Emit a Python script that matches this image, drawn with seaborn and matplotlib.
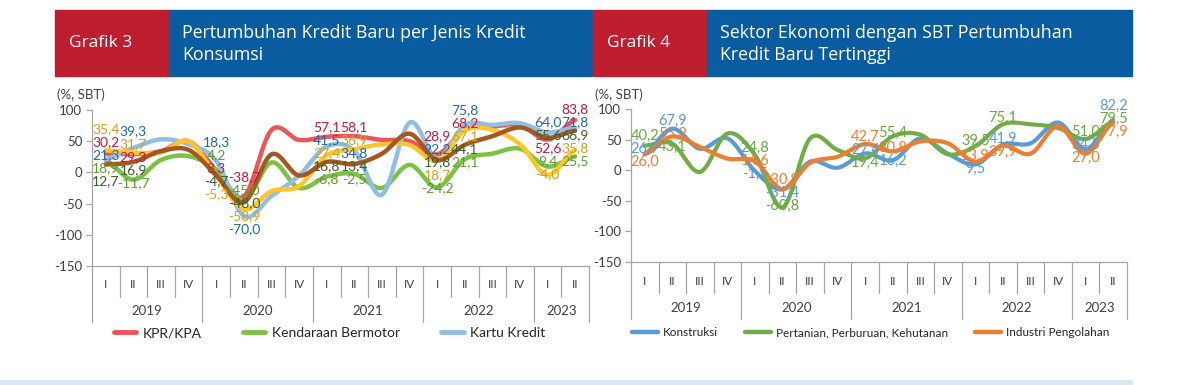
import numpy as np
import pandas as pd
import matplotlib
matplotlib.use("Agg")
import matplotlib.pyplot as plt
import matplotlib.transforms as mtransforms
from matplotlib.patches import Rectangle
from matplotlib.lines import Line2D
import seaborn as sns

# ---- data -------------------------------------------------------------
quarters = ["I", "II", "III", "IV"] * 4 + ["I", "II"]
years = ["2019", "2020", "2021", "2022", "2023"]
year_len = [4, 4, 4, 4, 2]
label_idx = [0, 1, 4, 5, 8, 9, 12, 13, 16, 17]   # quarters carrying a data label

# Grafik 3 - kredit konsumsi (SBT, %)
kpr = [30.2, 29.3, 34, 50, 3.3, -38.7, 68, 52, 57.1, 58.1, 52, 50, 28.9, 68.2, 73, 76, 52.6, 83.8]
kendaraan = [18.9, -11.7, 20, 26, 4.2, -45, 16, -25, -6.8, -2.5, -25, 12, -24.2, 21.1, 30, 38, 9.4, 25.5]
kartu = [21.3, 39.3, 53, 45, 18.3, -70.0, -38, -5, 41.5, 34.8, -36, 80, 22.2, 75.8, 76, 79, 64.0, 71.8]
multiguna = [35.4, 31.7, 32, 50, -5.3, -58.9, -30, -22, 27.4, 36.9, 45, 44, 18.7, 67.1, 68, 45, -4.0, 35.8]
lainnya = [12.7, 16.9, 34, 36, -4.7, -48.0, 29, -5, 16.8, 13.4, 30, 62, 19.8, 44.1, 58, 72, 55.6, 66.9]

# Grafik 4 - sektor ekonomi (SBT, %)
konstruksi = [26.9, 67.9, 35, 52, -1.5, -31.4, 14, 4, 27.4, 16.2, 52, 27, 9.5, 41.9, 44, 78, 34.5, 82.2]
pertanian = [40.2, 43.1, -3, 60, 24.8, -60.8, 52, 33, 19.4, 55.4, 58, 26, 39.5, 75.1, 75, 69, 51.0, 79.5]
industri = [26.0, 55.2, 38, 19, 14.6, -30.9, 12, 22, 42.7, 30.8, 47, 44, 13.9, 39.9, 27, 72, 27.0, 77.9]

W, H = 1195, 385


def px(x, y):
    return x / W, 1 - y / H


def smooth(vals, n=14):
    # excel-style smoothed line (bezier through the points)
    p = np.asarray(vals, float)
    pp = np.concatenate([[p[0]], p, [p[-1]]])
    xs, ys = [], []
    t = np.linspace(0, 1, n, endpoint=False)
    for i in range(len(p) - 1):
        p0, p1, p2, p3 = pp[i:i + 4]
        c1 = p1 + (p2 - p0) / 6
        c2 = p2 - (p3 - p1) / 6
        ys.append((1 - t) ** 3 * p1 + 3 * (1 - t) ** 2 * t * c1 + 3 * (1 - t) * t ** 2 * c2 + t ** 3 * p2)
        xs.append(i + t)
    xs.append([len(p) - 1])
    ys.append([p[-1]])
    return np.concatenate(xs), np.concatenate(ys)


def draw_panel(ax, series, lw, sep_q, sep_y, lab_q, lab_y, lab_size):
    rows = []
    for name, vals, color, _ in series:
        xs, ys = smooth(vals)
        rows.append(pd.DataFrame({"x": xs, "y": ys, "s": name}))
    df = pd.concat(rows, ignore_index=True)
    pal = {name: color for name, _, color, _ in series}
    sns.lineplot(data=df, x="x", y="y", hue="s", palette=pal, linewidth=lw,
                 sort=False, estimator=None, legend=False, ax=ax, zorder=3)
    ax.set_xlim(-0.5, len(quarters) - 0.5)
    ax.set_ylim(-150, 100)
    ax.set_yticks(range(-150, 101, 50))
    ax.set_xticks([])
    ax.set_xlabel("")
    ax.set_ylabel("")
    for s in ["top", "right"]:
        ax.spines[s].set_visible(False)
    for s in ["left", "bottom"]:
        ax.spines[s].set_color("#A6A6A6")
        ax.spines[s].set_linewidth(0.9)
    ax.tick_params(axis="y", length=4, width=0.9, color="#A6A6A6", pad=3,
                   labelsize=9.5, labelcolor="#404040", direction="out", left=True)

    # multi-level category axis
    tr = mtransforms.blended_transform_factory(ax.transData, ax.transAxes)
    year_edges = np.cumsum([0] + year_len)
    for k in range(len(quarters) + 1):
        bottom = sep_y if k in year_edges else sep_q
        ax.plot([k - 0.5, k - 0.5], [0, bottom], transform=tr, color="#A6A6A6",
                lw=0.9, clip_on=False)
    for i, q in enumerate(quarters):
        ax.text(i, lab_q, q, transform=tr, ha="center", va="center",
                fontsize=8.5, color="#404040")
    for yr, start, n in zip(years, year_edges[:-1], year_len):
        ax.text(start + n / 2 - 0.5, lab_y, yr, transform=tr, ha="center",
                va="center", fontsize=9.5, color="#404040")

    # data labels, stacked so they do not collide
    inv = ax.transData.inverted()
    for q in label_idx:
        items = [(vals[q], tcol) for _, vals, _, tcol in series]
        disp = [ax.transData.transform((q, v))[1] + 2 for v, _ in items]
        order = np.argsort(disp)[::-1]
        pos = np.array([disp[i] for i in order], float)
        for j in range(1, len(pos)):
            pos[j] = min(pos[j], pos[j - 1] - 13)
        pos += np.mean(disp) - pos.mean()
        for j, i in enumerate(order):
            v, tcol = items[i]
            yd = inv.transform((0, pos[j]))[1]
            ax.text(q, yd, f"{v:.1f}".replace(".", ","), ha="center", va="center",
                    fontsize=lab_size, color=tcol, zorder=6)


sns.set_style("white")
plt.rcParams["font.family"] = ["Lato", "DejaVu Sans"]
plt.rcParams["axes.unicode_minus"] = False

fig = plt.figure(figsize=(W / 100, H / 100), dpi=100)
fig.patch.set_facecolor("white")

# header bars
hdr_red, hdr_blue = "#BF1E2E", "#0A5CA0"
for x0, x1, x2, tag, title in [
    (55, 169, 592, "Grafik 3", "Pertumbuhan Kredit Baru per Jenis Kredit\nKonsumsi"),
    (593, 707, 1132, "Grafik 4", "Sektor Ekonomi dengan SBT Pertumbuhan\nKredit Baru Tertinggi"),
]:
    fig.patches.append(Rectangle(px(x0, 76), (x1 - x0) / W, 66 / H,
                                 transform=fig.transFigure, color=hdr_red, zorder=0))
    fig.patches.append(Rectangle(px(x1, 76), (x2 - x1) / W, 66 / H,
                                 transform=fig.transFigure, color=hdr_blue, zorder=0))
    fig.text(*px(x0 + 14, 43), tag, color="white", fontsize=12.5, va="center",
             family="Open Sans")
    fig.text(*px(x1 + 13, 44), title, color="white", fontsize=12.8, va="center",
             family="Open Sans", linespacing=1.3)

# bottom rule
fig.patches.append(Rectangle(px(0, 384), 1132 / W, 4 / H, transform=fig.transFigure,
                             color="#DCE9F5", zorder=0))

# ---- Grafik 3 ---------------------------------------------------------
ax1 = fig.add_axes([92 / W, 1 - 266 / H, 497 / W, 156 / H])
left_series = [
    ("KPR/KPA", kpr, "#EF5459", "#C8193A"),
    ("Kendaraan Bermotor", kendaraan, "#7DC243", "#5E9C33"),
    ("Kartu Kredit", kartu, "#93BEE3", "#1C6AB1"),
    ("Multiguna", multiguna, "#FFC62B", "#D3A21F"),
    ("Lainnya", lainnya, "#A4581F", "#3D5E2A"),
]
draw_panel(ax1, left_series, 3.2, -0.20, -0.36, -0.12, -0.29, 10)
fig.text(*px(57, 95), "(%, SBT)", fontsize=9.5, color="#404040", va="center")
h1 = [Line2D([], [], color=c, lw=3.5) for _, _, c, _ in left_series[:3]]
fig.legend(h1, [n for n, _, _, _ in left_series[:3]], loc="center left",
           bbox_to_anchor=px(114, 333), ncol=3, frameon=False, fontsize=10,
           handlelength=1.6, handletextpad=0.45, columnspacing=3.0,
           borderpad=0, borderaxespad=0, labelcolor="#262626")

# ---- Grafik 4 ---------------------------------------------------------
ax2 = fig.add_axes([631 / W, 1 - 262 / H, 496 / W, 153 / H])
right_series = [
    ("Konstruksi", konstruksi, "#5B9BD5", "#5B9BD5"),
    ("Pertanian, Perburuan, Kehutanan", pertanian, "#70AD47", "#6AA843"),
    ("Industri Pengolahan", industri, "#ED7D31", "#ED7D31"),
]
draw_panel(ax2, right_series, 3.0, -0.20, -0.37, -0.125, -0.30, 10.5)
fig.text(*px(595, 95), "(%, SBT)", fontsize=9.5, color="#404040", va="center")
h2 = [Line2D([], [], color=c, lw=3.2) for _, _, c, _ in right_series]
fig.legend(h2, [n for n, _, _, _ in right_series], loc="center left",
           bbox_to_anchor=px(632, 333), ncol=3, frameon=False, fontsize=8.5,
           handlelength=2.2, handletextpad=0.4, columnspacing=2.3,
           borderpad=0, borderaxespad=0, labelcolor="#262626")

fig.savefig("out.png", dpi=100)
